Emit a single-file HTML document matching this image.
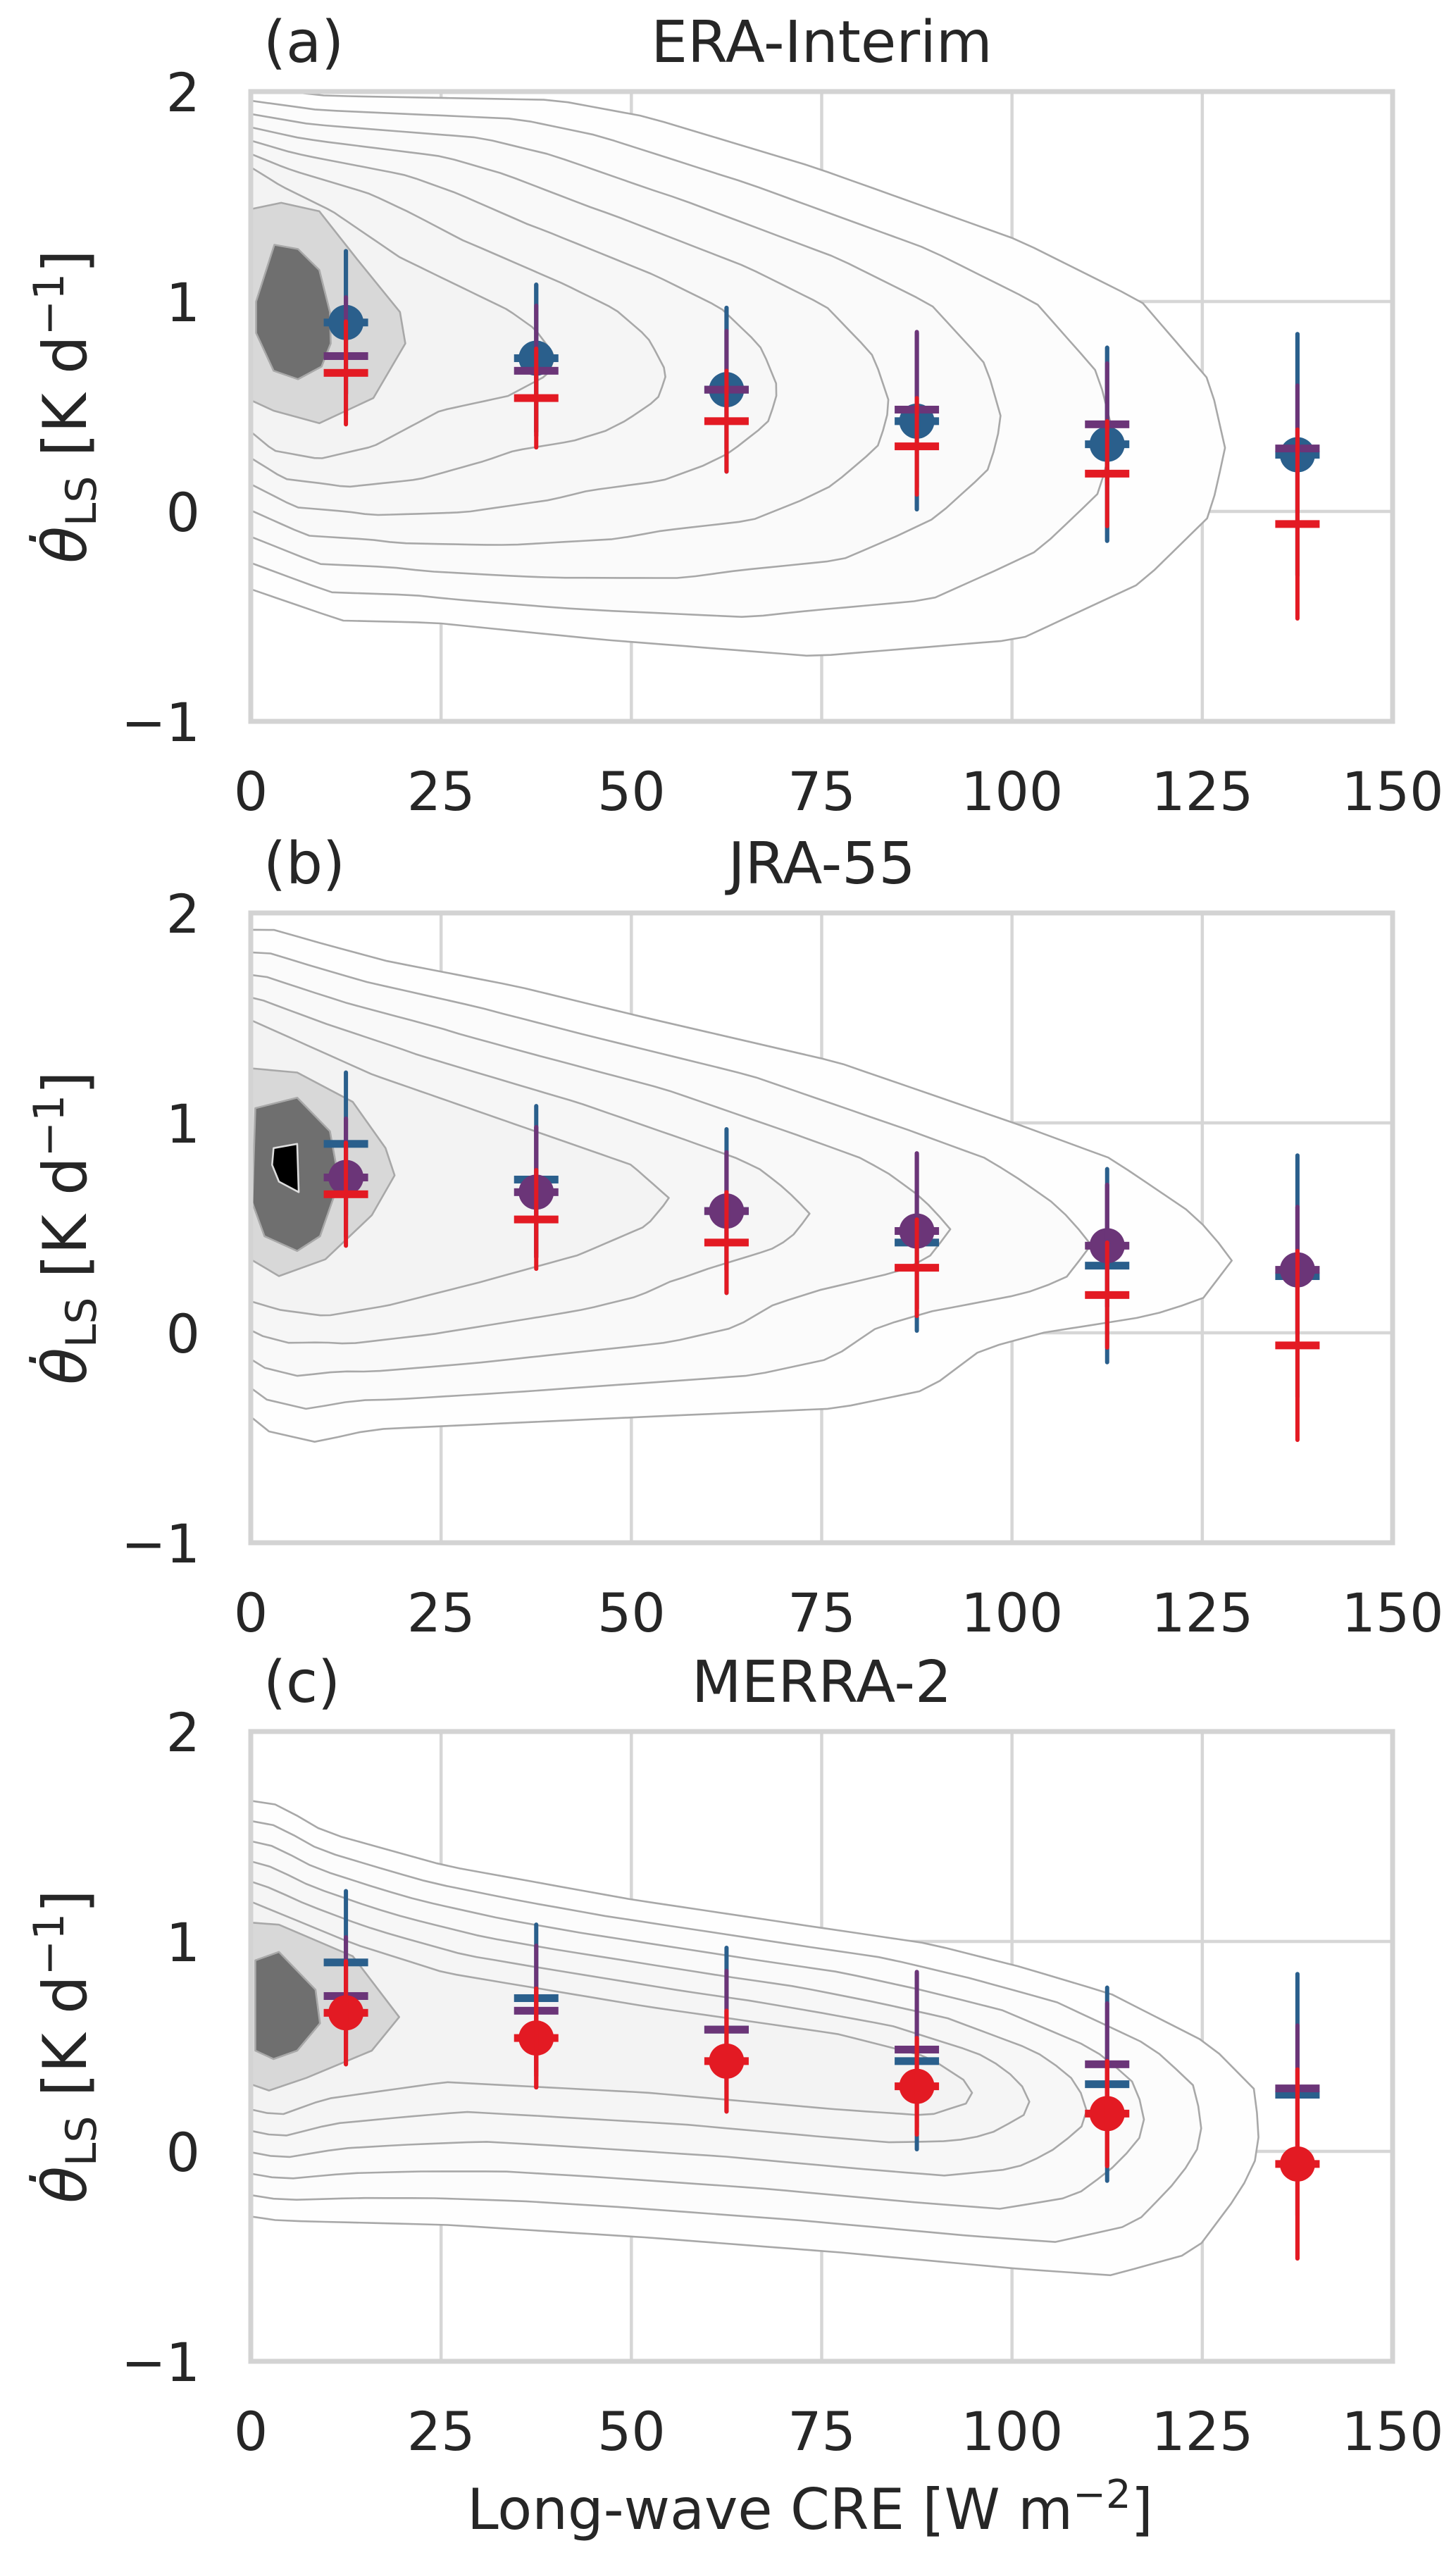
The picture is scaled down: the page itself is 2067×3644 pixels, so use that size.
<!DOCTYPE html>
<html><head><meta charset="utf-8"><style>
html,body{margin:0;padding:0;background:#fff}
svg{display:block}
text{font-family:"DejaVu Sans","Liberation Sans",sans-serif;fill:#262626}
</style></head><body>
<svg id="chart" width="2067" height="3644" viewBox="0 0 2067 3644" xmlns="http://www.w3.org/2000/svg"></svg>
<script>
// ---- data ----
const bins = [12.5, 37.5, 62.5, 87.5, 112.5, 137.5];
const eraMean = [0.90, 0.73, 0.58, 0.43, 0.32, 0.27];
const eraErr  = [0.34, 0.35, 0.39, 0.42, 0.46, 0.575];
const jraMean = [0.74, 0.67, 0.58, 0.485, 0.415, 0.30];
const jraErr  = [0.28, 0.31, 0.28, 0.37, 0.29, 0.30];
const merMean = [0.66, 0.54, 0.43, 0.31, 0.18, -0.06];
const merErr  = [0.245, 0.235, 0.24, 0.23, 0.25, 0.45];
const xTicks = [0, 25, 50, 75, 100, 125, 150];
const yTicks = [2, 1, 0, -1];
const yTickLabels = ["2", "1", "0", "\u22121"];
const titles = ["ERA-Interim", "JRA-55", "MERRA-2"];
const letters = ["(a)", "(b)", "(c)"];
// contours (data coords: CRE, theta-dot)
const outerA = [[0,2.02],[10,1.98],[40,1.96],[52,1.88],[74,1.64],[101,1.29],[117,1.0],[126,0.62],[128,0.30],[126,-0.02],[117,-0.34],[101,-0.61],[74,-0.69],[46,-0.61],[24,-0.53],[12,-0.52],[0,-0.37]];
const innerA = [[0,1.64],[4,1.55],[10.7,1.43],[19.6,1.21],[33.8,0.96],[37.3,0.87],[40,0.74],[39,0.65],[33.8,0.55],[24.9,0.48],[16.1,0.31],[9,0.25],[3,0.29],[0,0.38]];
const fillA = [[0,1.44],[4,1.47],[9,1.43],[14,1.2],[19.6,0.95],[20.3,0.8],[16.1,0.54],[9,0.42],[3,0.48],[0,0.53]];
const darkA = [[0.7,1.0],[3.1,1.27],[6.2,1.25],[9,1.15],[10.4,0.95],[10.5,0.8],[9.3,0.69],[6.2,0.63],[3,0.67],[0.7,0.85]];
const outerB = [[0,1.92],[3,1.92],[9.8,1.85],[18,1.77],[35,1.65],[52,1.5],[77,1.29],[101,0.99],[113,0.83],[124,0.56],[129,0.35],[125,0.16],[118,0.08],[104,0],[96,-0.08],[89,-0.27],[77,-0.36],[52,-0.4],[16,-0.46],[8.5,-0.52],[2.4,-0.47],[0,-0.4]];
const innerB = [[0,1.49],[16,1.23],[35,0.99],[50,0.8],[55,0.64],[52,0.51],[43,0.37],[30,0.24],[18,0.13],[9.8,0.08],[3.7,0.11],[0,0.15]];
const fillB = [[0,1.26],[6.1,1.24],[13.4,1.1],[17.7,0.88],[18.9,0.75],[15.9,0.56],[9.8,0.35],[3.7,0.27],[0,0.35]];
const darkB = [[0.6,1.07],[6.1,1.12],[10.4,0.96],[11.6,0.72],[9.1,0.46],[6.1,0.39],[1.8,0.46],[0.2,0.62]];
const coreB = [[3,0.88],[6.1,0.9],[6.3,0.67],[3.7,0.72],[2.8,0.8]];
const outerC = [[0,1.67],[3.7,1.65],[9.8,1.52],[25.6,1.36],[50,1.2],[74,1.07],[89,0.99],[101,0.88],[113,0.75],[126,0.51],[132,0.29],[132.5,0],[130,-0.19],[124,-0.48],[113,-0.59],[101,-0.56],[77,-0.48],[52,-0.41],[25.6,-0.35],[3.7,-0.33],[0,-0.31]];
const innerC = [[0,1.19],[13.4,0.99],[25.6,0.85],[52,0.69],[77,0.56],[89,0.45],[94.5,0.32],[95,0.24],[89,0.17],[77,0.2],[52,0.28],[25.6,0.33],[9.8,0.25],[3.7,0.17],[0,0.2]];
const fillC = [[0,1.09],[3.7,1.08],[13.4,0.93],[19.5,0.64],[15.9,0.48],[7.3,0.35],[2.4,0.29],[0,0.32]];
const darkC = [[0.6,0.91],[3.7,0.95],[8.5,0.77],[9.1,0.61],[6.1,0.48],[3,0.44],[0.6,0.48]];

// ---- layout ----
const NS = "http://www.w3.org/2000/svg";
const svg = document.getElementById("chart");
const X0 = 356, W = 1621, H = 894;
const tops = [130, 1296, 2458];
function sx(v){ return X0 + v / 150 * W; }
function sy(p, v){ return tops[p] + (2 - v) / 3 * H; }
function mk(tag, attrs, parent){
  const e = document.createElementNS(NS, tag);
  for (const k in attrs) e.setAttribute(k, attrs[k]);
  (parent || svg).appendChild(e);
  return e;
}
function toPx(p, pts){ return pts.map(q => [sx(q[0]), sy(p, q[1])]); }
function resample(px, n){
  const L = [0];
  for (let i = 1; i < px.length; i++) L.push(L[i-1] + Math.hypot(px[i][0]-px[i-1][0], px[i][1]-px[i-1][1]));
  const tot = L[L.length-1], out = [];
  let j = 0;
  for (let k = 0; k < n; k++){
    const d = tot * k / (n - 1);
    while (j < px.length - 2 && L[j+1] < d) j++;
    const f = (d - L[j]) / ((L[j+1] - L[j]) || 1);
    out.push([px[j][0] + f * (px[j+1][0] - px[j][0]), px[j][1] + f * (px[j+1][1] - px[j][1])]);
  }
  return out;
}
function dStr(px){ return "M" + px.map(q => q[0].toFixed(1) + "," + q[1].toFixed(1)).join("L") + "Z"; }

const panels = [
  {outer: outerA, inner: innerA, fill: fillA, dark: darkA, core: null, nMid: 5, hi: 0},
  {outer: outerB, inner: innerB, fill: fillB, dark: darkB, core: coreB, nMid: 3, hi: 1},
  {outer: outerC, inner: innerC, fill: fillC, dark: darkC, core: null, nMid: 4, hi: 2}
];
const series = [
  {mean: eraMean, err: eraErr, color: "#2a5f8c", name: "era-interim"},
  {mean: jraMean, err: jraErr, color: "#6b3578", name: "jra-55"},
  {mean: merMean, err: merErr, color: "#e31a23", name: "merra-2"}
];

panels.forEach((P, p) => {
  const g = mk("g", {});
  
  
  const T = tops[p];
  const clipId = "clip" + p;
  const cp = mk("clipPath", {id: clipId}, g);
  mk("rect", {x: X0, y: T, width: W, height: H}, cp);

  // grid
  const grid = mk("g", {stroke: "#d6d6d6", "stroke-width": 4.5}, g);
  
  
  xTicks.slice(1, -1).forEach(v => {
    const l = mk("line", {x1: sx(v), x2: sx(v), y1: T, y2: T + H}, grid);
    
    
  });
  [1, 0].forEach(v => {
    const l = mk("line", {x1: X0, x2: X0 + W, y1: sy(p, v), y2: sy(p, v)}, grid);
    
    
  });

  // contours
  const cg = mk("g", {"clip-path": "url(#" + clipId + ")", stroke: "#a8a8a8", "stroke-width": 2.6, "stroke-linejoin": "round"}, g);
  
  
  const N = 90;
  const ro = resample(toPx(p, P.outer), N), ri = resample(toPx(p, P.inner), N);
  const levels = [ro];
  for (let k = 1; k <= P.nMid; k++){
    const t = k / (P.nMid + 1);
    levels.push(ro.map((q, i) => [q[0] + t * (ri[i][0] - q[0]), q[1] + t * (ri[i][1] - q[1])]));
  }
  levels.push(ri);
  levels.forEach((lv, k) => {
    const shade = Math.round(255 - 11 * k / (levels.length - 1)) - 1;
    const c = "rgb(" + shade + "," + shade + "," + shade + ")";
    const path = mk("path", {d: dStr(lv), fill: c}, cg);
    
    
  });
  const f7 = mk("path", {d: dStr(toPx(p, P.fill)), fill: "#d8d8d8"}, cg);
  
  
  const f8 = mk("path", {d: dStr(toPx(p, P.dark)), fill: "#6f6f6f"}, cg);
  
  
  if (P.core){
    const f9 = mk("path", {d: dStr(toPx(p, P.core)), fill: "#000", stroke: "#dddddd"}, cg);
    
    
  }

  // spines
  const sp = mk("rect", {x: X0, y: T, width: W, height: H, fill: "none", stroke: "#d3d3d3", "stroke-width": 7}, g);
  
  

  // error bars and means
  series.forEach((S, s) => {
    const sg = mk("g", {}, g);
    
    
    bins.forEach((b, i) => {
      const x = sx(b), m = S.mean[i], e = S.err[i];
      const ln = mk("line", {x1: x, x2: x, y1: sy(p, m - e), y2: sy(p, m + e), stroke: S.color, "stroke-width": 6, "stroke-linecap": "round"}, sg);
      
      
      const cap = mk("rect", {x: x - 31.5, y: sy(p, m) - 5.5, width: 63, height: 11, fill: S.color}, sg);
      
      
      if (s === P.hi){
        const c = mk("circle", {cx: x, cy: sy(p, m), r: 25, fill: S.color}, sg);
        
        
        const ln2 = mk("line", {x1: x, x2: x, y1: sy(p, m - e), y2: sy(p, m + e), stroke: S.color, "stroke-width": 6, "stroke-linecap": "round"}, sg);
        
        
      }
    });
  });

  // tick labels
  xTicks.forEach(v => {
    const t = mk("text", {x: sx(v), y: T + H + 126, "text-anchor": "middle", "font-size": 76}, g);
    t.textContent = String(v);
    
    
  });
  yTicks.forEach((v, i) => {
    const t = mk("text", {x: 284, y: sy(p, v) + 28, "text-anchor": "end", "font-size": 76}, g);
    t.textContent = yTickLabels[i];
    
    
  });
  // title & letter
  const tt = mk("text", {x: X0 + W / 2, y: T - 42, "text-anchor": "middle", "font-size": 82}, g);
  tt.textContent = titles[p];
  
  
  const lt = mk("text", {x: 374, y: T - 42, "font-size": 82}, g);
  lt.textContent = letters[p];
  
  
  // y label
  const yl = mk("text", {x: 0, y: 0, "text-anchor": "middle", "font-size": 86, transform: "translate(122," + (T + H / 2) + ") rotate(-90)"}, g);
  yl.innerHTML = '<tspan font-style="italic">θ\u0307</tspan><tspan font-size="60" dy="14">LS</tspan><tspan dy="-14"> [K d</tspan><tspan font-size="60" dy="-32">\u22121</tspan><tspan dy="32">]</tspan>';
  
  
});

const xl = mk("text", {x: 1150, y: 3590, "text-anchor": "middle", "font-size": 80});
xl.innerHTML = 'Long-wave CRE [W m<tspan font-size="56" dy="-30">\u22122</tspan><tspan dy="30">]</tspan>';


</script>
</body></html>
